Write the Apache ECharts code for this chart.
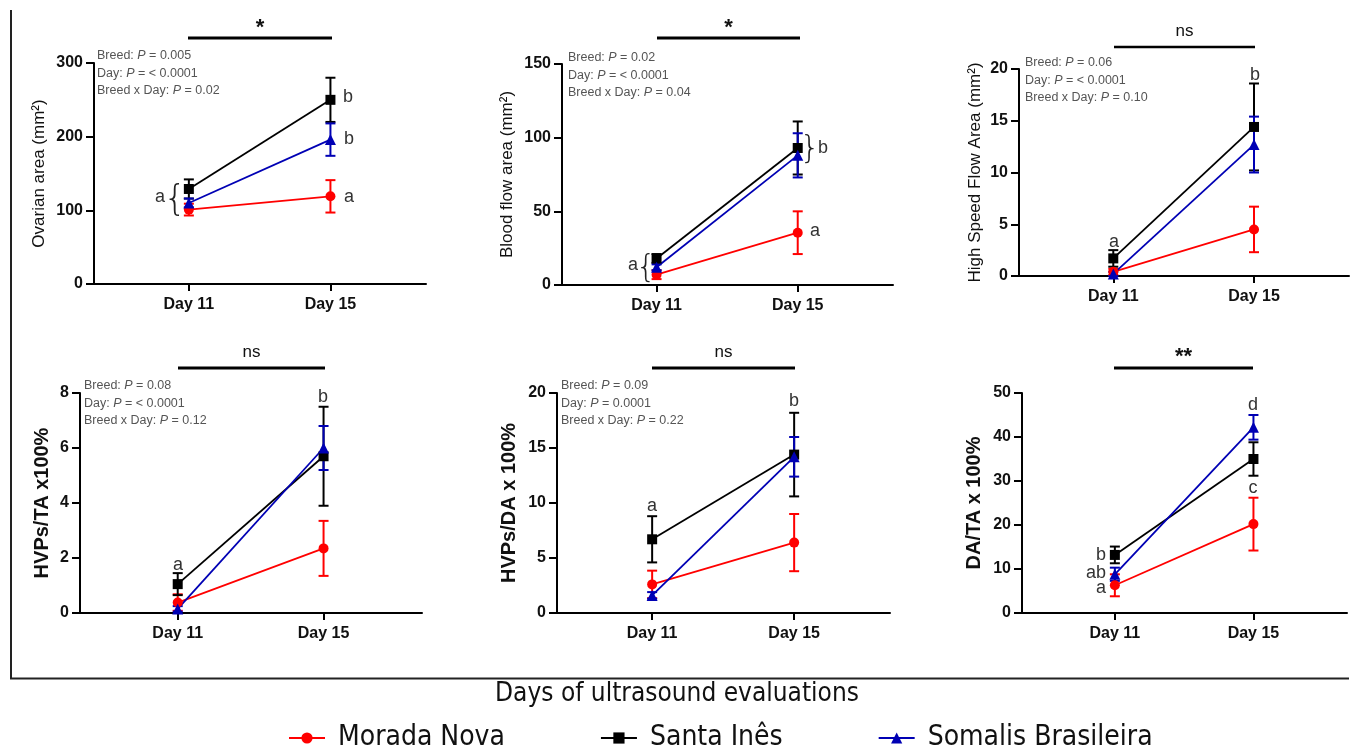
<!DOCTYPE html>
<html>
<head>
<meta charset="utf-8">
<script src="https://cdn.jsdelivr.net/npm/echarts@6/dist/echarts.min.js"></script>
<style>html,body{margin:0;padding:0;background:#fff}#c{width:1351px;height:748px}</style>
</head>
<body>
<div id="c"></div>
<script>
// ---------- DATA ----------
const days = ['Day 11', 'Day 15'];
const breeds = ['Morada Nova', 'Santa Inês', 'Somalis Brasileira'];

// means [Day 11, Day 15] per breed (Morada Nova, Santa Inês, Somalis Brasileira)
const ovarianMean = [[101, 119], [129, 250], [110, 196]];
const ovarianErr  = [[8, 22], [13, 30], [6, 22]];
const bloodMean   = [[7, 35.5], [18, 93], [12, 88]];
const bloodErr    = [[3, 14.5], [3, 18], [2, 15]];
const hsfaMean    = [[0.4, 4.5], [1.7, 14.4], [0.2, 12.7]];
const hsfaErr     = [[0.3, 2.2], [0.8, 4.2], [0.2, 2.7]];
const hvpTaMean   = [[0.38, 2.35], [1.05, 5.7], [0.15, 6.0]];
const hvpTaErr    = [[0.3, 1.0], [0.4, 1.8], [0.1, 0.8]];
const hvpDaMean   = [[2.6, 6.4], [6.7, 14.4], [1.6, 14.2]];
const hvpDaErr    = [[1.25, 2.6], [2.1, 3.8], [0.3, 1.8]];
const daTaMean    = [[6.3, 20.2], [13.2, 35], [8.8, 42.2]];
const daTaErr     = [[2.5, 6], [1.9, 3.8], [1.5, 2.8]];

const yNames = ['Ovarian area (mm²)', 'Blood flow area (mm²)', 'High Speed Flow Area (mm²)',
                'HVPs/TA x100%', 'HVPs/DA x 100%', 'DA/TA x 100%'];
const yMax = [300, 150, 20, 8, 20, 50];
const yInterval = [100, 50, 5, 2, 5, 10];
const pTexts = [
  ['0.005', '< 0.0001', '0.02'],
  ['0.02', '< 0.0001', '0.04'],
  ['0.06', '< 0.0001', '0.10'],
  ['0.08', '< 0.0001', '0.12'],
  ['0.09', '0.0001', '0.22'],
  null
];
const sigLabels = ['*', '*', 'ns', 'ns', 'ns', '**'];

// ---------- LAYOUT ----------
const means = [ovarianMean, bloodMean, hsfaMean, hvpTaMean, hvpDaMean, daTaMean];
const errs  = [ovarianErr, bloodErr, hsfaErr, hvpTaErr, hvpDaErr, daTaErr];
const grids = [
  {left: 94, top: 63, width: 332, height: 221},
  {left: 562, top: 64, width: 331, height: 221},
  {left: 1019, top: 69, width: 330, height: 207},
  {left: 80, top: 393, width: 342, height: 220},
  {left: 557, top: 393, width: 333, height: 220},
  {left: 1022, top: 393, width: 325, height: 220}
];
const nameGaps = [46, 46, 35, 28, 38, 38];
const colors = ['#ff0000', '#000000', '#0000b4'];
const symbols = ['circle', 'rect', 'triangle'];
const FONT = "'Liberation Sans', Arial, sans-serif";
const NARROW = "'Liberation Sans Narrow', 'Arial Narrow', 'DejaVu Sans Condensed', sans-serif";

const xAxes = [], yAxes = [], series = [];
grids.forEach((g, i) => {
  xAxes.push({
    type: 'value', gridIndex: i, min: -0.67, max: 1.675,
    axisLine: {onZero: false, lineStyle: {color: '#000', width: 2}},
    axisTick: {show: true, customValues: [0, 1], length: 7, lineStyle: {width: 2, color: '#000'}},
    axisLabel: {customValues: [0, 1], formatter: v => days[Math.round(v)], color: '#111',
                fontWeight: 'bold', fontSize: 16, fontFamily: FONT, margin: 13},
    splitLine: {show: false}
  });
  const bottomRow = i >= 3;
  yAxes.push({
    type: 'value', gridIndex: i, min: 0, max: yMax[i], interval: yInterval[i],
    name: yNames[i], nameLocation: 'middle', nameGap: nameGaps[i],
    nameTextStyle: {fontSize: bottomRow ? 20 : 17, fontWeight: bottomRow ? 'bold' : 'normal',
                    color: '#111', fontFamily: FONT},
    axisLine: {show: true, onZero: false, lineStyle: {color: '#000', width: 2}},
    axisTick: {show: true, length: 8, lineStyle: {width: 2, color: '#000'}},
    axisLabel: {color: '#111', fontWeight: 'bold', fontSize: 16, fontFamily: FONT, margin: 11},
    splitLine: {show: false}
  });
  [0, 1, 2].forEach(b => {
    const m = means[i][b], e = errs[i][b];
    series.push({
      type: 'custom', name: 'err' + i + b, xAxisIndex: i, yAxisIndex: i, z: 3,
      data: [[0, m[0], e[0]], [1, m[1], e[1]]],
      encode: {x: 0, y: 1},
      renderItem: (params, api) => {
        const x = api.value(0), y = api.value(1), er = api.value(2);
        const t = api.coord([x, y + er]), bt = api.coord([x, Math.max(0, y - er)]);
        const st = {stroke: colors[b], lineWidth: 2};
        const cap = 5;
        return {type: 'group', children: [
          {type: 'line', shape: {x1: t[0], y1: t[1], x2: bt[0], y2: bt[1]}, style: st},
          {type: 'line', shape: {x1: t[0] - cap, y1: t[1], x2: t[0] + cap, y2: t[1]}, style: st},
          {type: 'line', shape: {x1: bt[0] - cap, y1: bt[1], x2: bt[0] + cap, y2: bt[1]}, style: st}
        ]};
      }
    });
    series.push({
      type: 'line', name: breeds[b], xAxisIndex: i, yAxisIndex: i, z: 4,
      data: [[0, m[0]], [1, m[1]]],
      symbol: symbols[b], symbolSize: b === 2 ? 11 : 10, showSymbol: true,
      itemStyle: {color: colors[b]},
      lineStyle: {color: colors[b], width: 1.8},
      animation: false
    });
  });
});

// ---------- ANNOTATIONS ----------
const graphic = [];
const txt = (x, y, s, size, opts) => graphic.push(Object.assign({
  type: 'text', x: x, y: y,
  style: Object.assign({text: s, fontSize: size, fontFamily: FONT, fill: '#333',
                        align: 'center', verticalAlign: 'middle'}, opts || {})
}));
// frame
graphic.push({type: 'line', shape: {x1: 11, y1: 10, x2: 11, y2: 679}, style: {stroke: '#222', lineWidth: 2}});
graphic.push({type: 'line', shape: {x1: 10, y1: 678.5, x2: 1349, y2: 678.5}, style: {stroke: '#222', lineWidth: 2}});

// significance bars
const sig = [
  {x1: 188, x2: 332, y: 38, ty: 25, w: 3},
  {x1: 657, x2: 800, y: 38, ty: 25, w: 3},
  {x1: 1114, x2: 1255, y: 47, ty: 31, w: 2.5},
  {x1: 178, x2: 325, y: 368, ty: 352, w: 3},
  {x1: 652, x2: 795, y: 368, ty: 352, w: 3},
  {x1: 1114, x2: 1253, y: 368, ty: 354, w: 3}
];
sig.forEach((s, i) => {
  graphic.push({type: 'line', shape: {x1: s.x1, y1: s.y, x2: s.x2, y2: s.y}, style: {stroke: '#000', lineWidth: s.w}});
  const star = sigLabels[i] !== 'ns';
  txt((s.x1 + s.x2) / 2, s.ty + (star ? 3 : 0), sigLabels[i], star ? 22 : 17,
      {fontWeight: star ? 'bold' : 'normal', fill: '#111'});
});

// P-value blocks
const pPos = [[97, 47], [568, 49], [1025, 54], [84, 377], [561, 377]];
pPos.forEach((p, i) => {
  const v = pTexts[i];
  graphic.push({
    type: 'text', x: p[0], y: p[1],
    style: {
      text: 'Breed: {i|P} = ' + v[0] + '\nDay: {i|P} = ' + v[1] + '\nBreed x Day: {i|P} = ' + v[2],
      fontSize: 12.5, fontFamily: FONT, fill: '#555', lineHeight: 17.5,
      rich: {i: {fontStyle: 'italic', fontSize: 12.5, fontFamily: FONT, fill: '#555', lineHeight: 17.5}}
    }
  });
});

// letters
const L = 18;
[[160, 197, 'a'], [348, 97, 'b'], [349, 139, 'b'], [349, 197, 'a'],
 [633, 265, 'a'], [823, 148, 'b'], [815, 231, 'a'],
 [1114, 242, 'a'], [1255, 75, 'b'],
 [178, 565, 'a'], [323, 397, 'b'],
 [652, 506, 'a'], [794, 401, 'b'],
 [1101, 555, 'b'], [1096, 573, 'ab'], [1101, 588, 'a'], [1253, 405, 'd'], [1253, 488, 'c']
].forEach(l => txt(l[0], l[1], l[2], L));
// braces
txt(175, 201, '{', 36, {fontFamily: "'DejaVu Sans', sans-serif", fontWeight: 'lighter', fill: '#222'});
txt(646, 269, '{', 32, {fontFamily: "'DejaVu Sans', sans-serif", fontWeight: 'lighter', fill: '#222'});
txt(810, 150, '}', 32, {fontFamily: "'DejaVu Sans', sans-serif", fontWeight: 'lighter', fill: '#222'});

// x-axis common title
txt(677, 694, 'Days of ultrasound evaluations', 26, {fontFamily: NARROW, fill: '#111'});

const chart = echarts.init(document.getElementById('c'));
chart.setOption({
  animation: false,
  grid: grids,
  xAxis: xAxes,
  yAxis: yAxes,
  series: series,
  legend: {
    data: breeds, left: 283, top: 719, itemGap: 95, itemWidth: 36, itemHeight: 14,
    textStyle: {fontSize: 28, fontFamily: NARROW, color: '#111', padding: [0, 0, 0, 8]},
    selectedMode: false
  },
  graphic: graphic
});
</script>
</body>
</html>
